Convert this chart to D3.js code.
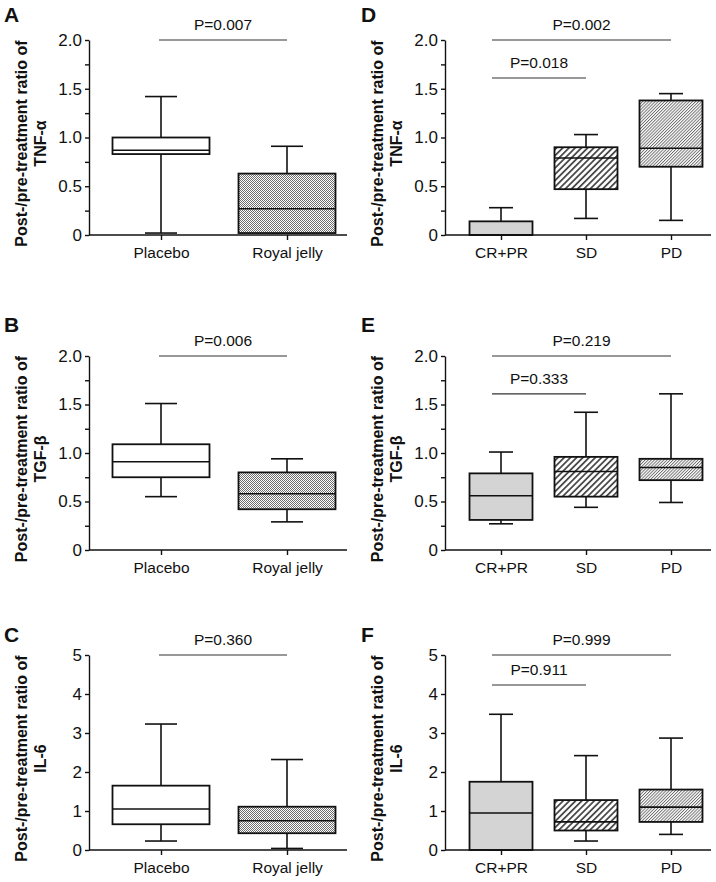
<!DOCTYPE html>
<html>
<head>
<meta charset="utf-8">
<script src="https://cdn.jsdelivr.net/npm/d3@7"></script>
<style>
  body { margin: 0; background: #fff; }
  svg text { font-family: "Liberation Sans", Arial, sans-serif; }
</style>
</head>
<body>
<svg id="chart" width="716" height="882"></svg>
<script>
// groups
var groupsTreat = ["Placebo", "Royal jelly"];
var groupsResp = ["CR+PR", "SD", "PD"];

// box stats per group: [min, q1, median, q3, max]
var tnfTreat = [[0.02, 0.83, 0.87, 1.00, 1.42], [0.02, 0.02, 0.27, 0.63, 0.91]];
var tgfTreat = [[0.55, 0.75, 0.91, 1.09, 1.51], [0.29, 0.42, 0.58, 0.80, 0.94]];
var il6Treat = [[0.23, 0.66, 1.05, 1.65, 3.23], [0.04, 0.43, 0.75, 1.11, 2.32]];
var tnfResp = [[0, 0, 0, 0.14, 0.28], [0.17, 0.47, 0.79, 0.90, 1.03], [0.15, 0.70, 0.89, 1.38, 1.45]];
var tgfResp = [[0.27, 0.31, 0.56, 0.79, 1.01], [0.44, 0.55, 0.81, 0.96, 1.42], [0.49, 0.72, 0.85, 0.94, 1.61]];
var il6Resp = [[0, 0, 0.95, 1.75, 3.48], [0.23, 0.50, 0.72, 1.28, 2.42], [0.40, 0.72, 1.10, 1.55, 2.87]];

// p values
var pTreat = ["P=0.007", "P=0.006", "P=0.360"];
var pRespAll = ["P=0.002", "P=0.219", "P=0.999"];
var pRespSD = ["P=0.018", "P=0.333", "P=0.911"];
var sdBracketLevel = [1.61, 1.61, 4.23];

// y scale tops + ticks
var yMax = [2, 2, 5];
var ticksRatio = [0, 0.25, 0.5, 0.75, 1, 1.25, 1.5, 1.75, 2];
var ticksIL6 = [0, 1, 2, 3, 4, 5];
var cytokines = ["TNF-α", "TGF-β", "IL-6"];
var lettersL = ["A", "B", "C"];
var lettersR = ["D", "E", "F"];

var svg = d3.select("#chart");
var defs = svg.append("defs");

// royal jelly stipple
var dots = defs.append("pattern").attr("id", "dots")
    .attr("patternUnits", "userSpaceOnUse").attr("width", 2).attr("height", 2);
dots.append("rect").attr("width", 2).attr("height", 2).attr("fill", "#fff");
dots.append("rect").attr("width", 1).attr("height", 1).attr("fill", "#6e6e6e");
dots.append("rect").attr("x", 1).attr("y", 1).attr("width", 1).attr("height", 1).attr("fill", "#6e6e6e");

// SD wide hatch
var hw = defs.append("pattern").attr("id", "hatchWide")
    .attr("patternUnits", "userSpaceOnUse").attr("width", 4.4).attr("height", 4.4)
    .attr("patternTransform", "rotate(45)");
hw.append("rect").attr("width", 4.4).attr("height", 4.4).attr("fill", "#fff");
hw.append("rect").attr("width", 1.8).attr("height", 4.4).attr("fill", "#4a4a4a");

// PD fine hatch
var hf = defs.append("pattern").attr("id", "hatchFine")
    .attr("patternUnits", "userSpaceOnUse").attr("width", 2.2).attr("height", 2.2)
    .attr("patternTransform", "rotate(45)");
hf.append("rect").attr("width", 2.2).attr("height", 2.2).attr("fill", "#fff");
hf.append("rect").attr("width", 0.9).attr("height", 2.2).attr("fill", "#6a6a6a");

var fillsTreat = ["#fff", "url(#dots)"];
var fillsResp = ["#d4d4d4", "url(#hatchWide)", "url(#hatchFine)"];

// layout
var cols = [
    {ax: 89, end: 347, centers: [72, 198], boxW: 97, capW: 32, barOff: -2, letterX: 4},
    {ax: 445, end: 711, centers: [56, 141, 226], boxW: 63, capW: 24, barOff: -9, letterX: 361}
];
var rows = [
    {top: 40, bottom: 235, letterY: 22},
    {top: 356, bottom: 550, letterY: 332},
    {top: 655, bottom: 850, letterY: 642}
];

var treatStats = [tnfTreat, tgfTreat, il6Treat];
var respStats = [tnfResp, tgfResp, il6Resp];

function drawPanel(col, row, letter, groups, stats, fills, ymax, ticks, cyto, brackets) {
    var g = svg.append("g");
    var x = d3.scalePoint().domain(groups)
        .range([col.ax + col.centers[0], col.ax + col.centers[col.centers.length - 1]]);
    var y = d3.scaleLinear().domain([0, ymax]).range([row.bottom, row.top]);

    // boxes
    groups.forEach(function (grp, i) {
        var s = stats[i];
        var cx = x(grp);
        var b = g.append("g").attr("stroke", "#111").attr("stroke-width", 1.6);
        b.append("line").attr("x1", cx).attr("x2", cx).attr("y1", y(s[3])).attr("y2", y(s[4]));
        b.append("line").attr("x1", cx).attr("x2", cx).attr("y1", y(s[1])).attr("y2", y(s[0]));
        b.append("line").attr("x1", cx - col.capW / 2).attr("x2", cx + col.capW / 2)
            .attr("y1", y(s[4])).attr("y2", y(s[4]));
        b.append("line").attr("x1", cx - col.capW / 2).attr("x2", cx + col.capW / 2)
            .attr("y1", y(s[0])).attr("y2", y(s[0]));
        b.append("rect").attr("x", cx - col.boxW / 2).attr("y", y(s[3]))
            .attr("width", col.boxW).attr("height", y(s[1]) - y(s[3]))
            .attr("fill", fills[i]).attr("stroke-width", 1.8);
        b.append("line").attr("x1", cx - col.boxW / 2).attr("x2", cx + col.boxW / 2)
            .attr("y1", y(s[2])).attr("y2", y(s[2]));
    });

    // y axis
    var fmt = ymax === 5 ? d3.format("d") : function (d) {
        if (d === 0) return "0";
        return (Math.round(d * 100) % 50 === 0) ? d.toFixed(1) : "";
    };
    var ya = g.append("g").attr("transform", "translate(" + col.ax + ",0)")
        .call(d3.axisLeft(y).tickValues(ticks).tickSize(4).tickSizeOuter(0).tickPadding(3).tickFormat(fmt));
    ya.selectAll("path, line").attr("stroke", "#111").attr("stroke-width", 1.4);
    ya.selectAll("text").attr("font-size", 17).attr("fill", "#111");

    // x axis
    var xa = g.append("g").attr("transform", "translate(0," + row.bottom + ")")
        .call(d3.axisBottom(x).tickSize(5).tickPadding(7));
    xa.select(".domain").remove();
    xa.selectAll("line").attr("stroke", "#111").attr("stroke-width", 1.4);
    xa.selectAll("text").attr("font-size", 15.5).attr("fill", "#111");
    g.append("line").attr("x1", col.ax).attr("x2", col.end)
        .attr("y1", row.bottom).attr("y2", row.bottom)
        .attr("stroke", "#111").attr("stroke-width", 1.5);

    // y label
    var cy = (row.top + row.bottom) / 2 + 6;
    [["Post-/pre-treatment ratio of", -68], [cyto, -49]].forEach(function (t) {
        g.append("text").attr("transform", "translate(" + (col.ax + t[1]) + "," + cy + ") rotate(-90)")
            .attr("text-anchor", "middle").attr("dy", "0.35em")
            .attr("font-size", 16).attr("font-weight", "bold").attr("fill", "#111")
            .text(t[0]);
    });

    // panel letter
    g.append("text").attr("x", col.letterX).attr("y", row.letterY)
        .attr("font-size", 21).attr("font-weight", "bold").attr("fill", "#111").text(letter);

    // p brackets
    brackets.forEach(function (br) {
        var x1 = x(groups[0]) + col.barOff, x2 = x(groups[br.to]);
        var by = y(br.level);
        g.append("line").attr("x1", x1).attr("x2", x2).attr("y1", by).attr("y2", by)
            .attr("stroke", "#333").attr("stroke-width", 1.1);
        g.append("text").attr("x", (x1 + x2) / 2).attr("y", by - 10)
            .attr("text-anchor", "middle").attr("font-size", 15.5).attr("fill", "#111")
            .text(br.p);
    });
}

for (var r = 0; r < 3; r++) {
    var ticks = yMax[r] === 5 ? ticksIL6 : ticksRatio;
    drawPanel(cols[0], rows[r], lettersL[r], groupsTreat, treatStats[r], fillsTreat,
        yMax[r], ticks, cytokines[r], [{to: 1, level: yMax[r], p: pTreat[r]}]);
    drawPanel(cols[1], rows[r], lettersR[r], groupsResp, respStats[r], fillsResp,
        yMax[r], ticks, cytokines[r],
        [{to: 2, level: yMax[r], p: pRespAll[r]}, {to: 1, level: sdBracketLevel[r], p: pRespSD[r]}]);
}
</script>
</body>
</html>
